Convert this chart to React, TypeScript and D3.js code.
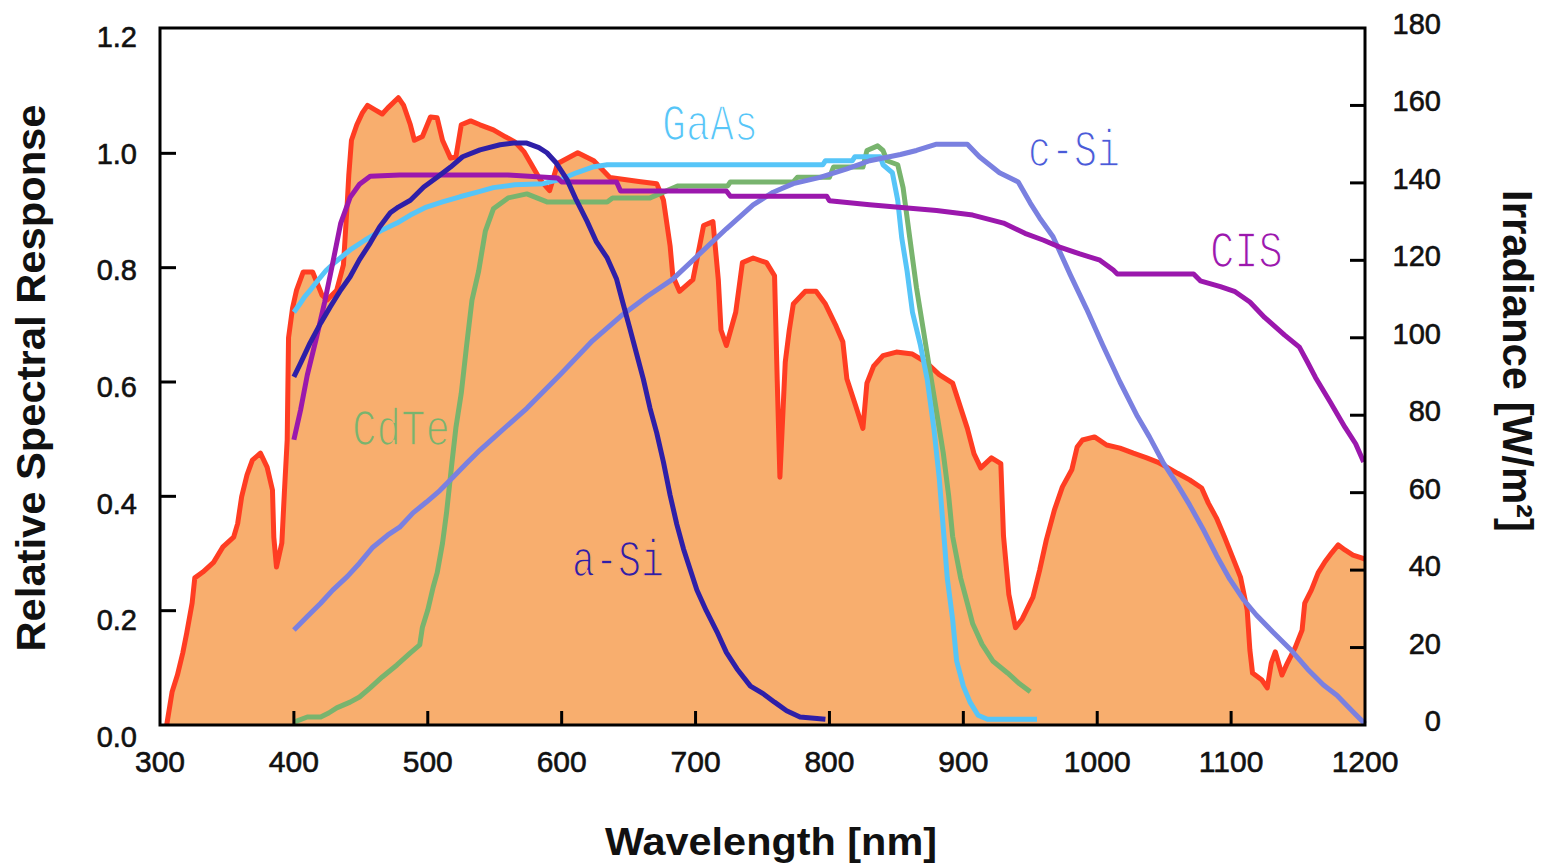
import React from 'react';
import * as d3 from 'd3';

// solar irradiance [nm, W/m2]  (right axis)
const irradiance: [number, number][] = [
  [305, 0], [309, 8.5], [313, 12.9], [317, 18.6], [320, 23.8], [324, 31.5], [326, 38], [332, 39.5],
  [340, 42], [347, 46], [355, 48.5], [358, 52], [361, 59], [365, 64.6], [369, 68.4], [375, 70.2],
  [380, 66.6], [384, 60.7], [385, 48.5], [387, 40.8], [391, 47], [393, 60.7], [395, 73.6], [396, 100],
  [399, 107.7], [402, 112.3], [407, 117], [414, 117], [418, 113.6], [421, 111], [425, 109.8], [432, 112.3],
  [437, 118.8], [440, 135.6], [441, 142], [443, 151], [447, 155], [451, 158], [455, 160], [461, 158.8],
  [466, 157.8], [470, 159.3], [478, 162], [482, 160], [487, 155], [490, 151], [496, 152], [502, 157],
  [507, 156.8], [511, 151], [517, 146.4], [521, 146.7], [525, 155], [532, 156], [539, 155], [549, 153.7],
  [558, 151.9], [565, 150.6], [572, 148], [577, 145], [584, 140.8], [591, 138], [597, 145], [612, 147.8],
  [624, 145.7], [636, 141.4], [659, 140.3], [671, 139.8], [676, 135.6], [681, 123.7], [683, 116], [688, 112],
  [698, 115], [703, 123.7], [706, 129], [713, 130], [717, 115], [719, 102], [723, 98], [730, 106.6],
  [735, 119.4], [743, 120.6], [753, 119.4], [759, 116], [761, 89], [763, 64], [767, 93.7], [770, 102],
  [773, 108.7], [782, 112], [790, 112], [797, 108.7], [805, 103], [810, 99], [813, 89.4], [820, 82],
  [825, 76.6], [828, 88.3], [833, 92.7], [840, 95.4], [850, 96.3], [862, 95.8], [872, 93.7], [882, 90.5],
  [892, 88.3], [898, 81.9], [903, 76.6], [908, 70], [913, 66.4], [921, 69], [928, 67.5], [930, 48.8],
  [934, 33.7], [939, 25.1], [944, 27.4], [952, 33], [957, 40], [962, 47.8], [968, 55.5], [974, 61.5],
  [981, 65.9], [985, 71.8], [989, 73.6], [998, 74.4], [1007, 72.3], [1017, 71.5], [1027, 70.2], [1037, 69],
  [1045, 67.9], [1052, 66.6], [1060, 65], [1069, 63.3], [1078, 61.2], [1083, 57.3], [1089, 53.5], [1095, 48.6],
  [1101, 43.4], [1107, 38.2], [1112, 29.7], [1114, 19.4], [1116, 13.4], [1123, 11.6], [1127, 9.6], [1130, 16],
  [1133, 18.9], [1138, 12.9], [1142, 16], [1148, 20.1], [1153, 24.5], [1155, 31.5], [1160, 34.9], [1165, 39.3],
  [1170, 42.1], [1175, 44.4], [1180, 46.5], [1185, 45.2], [1191, 43.9], [1198, 43.1], [1200, 42.8],
];

// relative spectral response [nm, value]  (left axis)
const gaAs: [number, number][] = [
  [400, 0.722], [404, 0.735], [408, 0.749], [413, 0.763], [418, 0.778], [424, 0.795], [431, 0.81], [442, 0.831],
  [453, 0.848], [466, 0.866], [477, 0.878], [487, 0.892], [499, 0.906], [511, 0.915], [524, 0.924], [537, 0.932],
  [549, 0.94], [565, 0.945], [586, 0.947], [600, 0.955], [611, 0.966], [623, 0.976], [634, 0.98], [795, 0.98],
  [797, 0.987], [817, 0.987], [819, 0.994], [838, 0.994], [840, 0.98], [847, 0.966], [851, 0.918], [854, 0.852],
  [858, 0.794], [862, 0.722], [868, 0.664], [873, 0.605], [878, 0.519], [882, 0.432], [885, 0.345], [888, 0.257],
  [892, 0.185], [895, 0.112], [900, 0.068], [905, 0.04], [911, 0.017], [918, 0.01], [955, 0.01],
];

const cdTe: [number, number][] = [
  [400, 0.005], [410, 0.014], [420, 0.014], [426, 0.021], [432, 0.03], [442, 0.04], [449, 0.049], [457, 0.065],
  [466, 0.084], [477, 0.105], [487, 0.126], [494, 0.14], [496, 0.171], [500, 0.201], [504, 0.241], [507, 0.266],
  [511, 0.318], [514, 0.371], [518, 0.458], [521, 0.52], [525, 0.58], [529, 0.664], [533, 0.743], [538, 0.794],
  [543, 0.864], [549, 0.903], [560, 0.922], [574, 0.929], [589, 0.915], [634, 0.915], [638, 0.922], [666, 0.922],
  [687, 0.943], [724, 0.943], [726, 0.95], [773, 0.95], [776, 0.958], [800, 0.958], [803, 0.976], [825, 0.976],
  [828, 1.005], [836, 1.013], [840, 1.005], [843, 0.987], [851, 0.98], [855, 0.94], [860, 0.852], [865, 0.765],
  [870, 0.693], [875, 0.62], [880, 0.548], [885, 0.476], [889, 0.402], [892, 0.33], [898, 0.257], [903, 0.213],
  [907, 0.177], [914, 0.141], [922, 0.112], [933, 0.091], [942, 0.072], [950, 0.058],
];

const aSi: [number, number][] = [
  [400, 0.609], [405, 0.633], [412, 0.668], [420, 0.703], [427, 0.731], [435, 0.761], [442, 0.784], [449, 0.814],
  [457, 0.843], [464, 0.871], [472, 0.896], [478, 0.906], [487, 0.918], [497, 0.941], [507, 0.958], [517, 0.976],
  [526, 0.994], [539, 1.006], [554, 1.015], [564, 1.018], [574, 1.018], [583, 1.01], [589, 1.001], [596, 0.983],
  [604, 0.954], [611, 0.918], [619, 0.881], [626, 0.845], [634, 0.817], [641, 0.78], [646, 0.736], [651, 0.693],
  [656, 0.649], [661, 0.605], [666, 0.554], [671, 0.511], [676, 0.46], [681, 0.402], [686, 0.351], [691, 0.308],
  [696, 0.272], [701, 0.236], [708, 0.2], [716, 0.163], [723, 0.127], [731, 0.098], [741, 0.068], [751, 0.054],
  [759, 0.04], [768, 0.025], [778, 0.014], [797, 0.01],
];

const cSi: [number, number][] = [
  [400, 0.166], [410, 0.19], [420, 0.213], [429, 0.236], [440, 0.26], [449, 0.283], [459, 0.311], [470, 0.332],
  [479, 0.346], [489, 0.371], [499, 0.39], [509, 0.41], [519, 0.434], [529, 0.458], [539, 0.481], [549, 0.502],
  [574, 0.554], [599, 0.613], [623, 0.672], [644, 0.715], [664, 0.75], [683, 0.78], [703, 0.824], [723, 0.868],
  [743, 0.91], [758, 0.932], [773, 0.947], [793, 0.958], [813, 0.973], [830, 0.987], [853, 0.998], [865, 1.005],
  [880, 1.016], [903, 1.016], [912, 0.994], [927, 0.966], [941, 0.95], [950, 0.913], [957, 0.887], [967, 0.854],
  [980, 0.787], [992, 0.728], [1004, 0.665], [1017, 0.6], [1030, 0.54], [1039, 0.504], [1049, 0.46], [1060, 0.42],
  [1069, 0.385], [1079, 0.343], [1089, 0.297], [1099, 0.255], [1109, 0.22], [1119, 0.192], [1131, 0.163],
  [1144, 0.133], [1157, 0.098], [1169, 0.07], [1179, 0.052], [1191, 0.023], [1200, 0.002],
];

const cis: [number, number][] = [
  [400, 0.499], [405, 0.551], [410, 0.612], [417, 0.679], [423, 0.74], [429, 0.808], [435, 0.878], [442, 0.923],
  [449, 0.946], [457, 0.96], [479, 0.962], [560, 0.962], [597, 0.957], [600, 0.95], [641, 0.95], [644, 0.934],
  [723, 0.934], [726, 0.925], [798, 0.925], [800, 0.917], [830, 0.91], [880, 0.9], [907, 0.892], [930, 0.878],
  [946, 0.86], [960, 0.848], [972, 0.836], [987, 0.824], [1002, 0.813], [1012, 0.796], [1015, 0.789], [1072, 0.789],
  [1077, 0.777], [1092, 0.767], [1103, 0.758], [1114, 0.74], [1125, 0.713], [1140, 0.682], [1151, 0.661],
  [1157, 0.635], [1163, 0.608], [1174, 0.565], [1185, 0.521], [1193, 0.492], [1199, 0.46],
];

const xTicks = [300, 400, 500, 600, 700, 800, 900, 1000, 1100, 1200];
const leftTicks = [0, 0.2, 0.4, 0.6, 0.8, 1.0, 1.2];
const rightTicks = [0, 20, 40, 60, 80, 100, 120, 140, 160, 180];

// order = drawing order (bottom to top); label anchored at [nm, response]
const series = [
  { name: 'CdTe', data: cdTe, color: '#78b46e', text: '#78b46e', label: [443.4, 0.49], width: 98, bg: '#f8ae6e' },
  { name: 'GaAs', data: gaAs, color: '#56c5f8', text: '#56c5f8', label: [674.9, 1.023], width: 96, bg: '#ffffff' },
  { name: 'c-Si', data: cSi, color: '#7a80e0', text: '#4a5ad8', label: [948.3, 0.978], width: 92, bg: '#ffffff' },
  { name: 'CIS', data: cis, color: '#9b18ad', text: '#9b18ad', label: [1084.2, 0.801], width: 73, bg: '#ffffff' },
  { name: 'a-Si', data: aSi, color: '#2e1fa8', text: '#2e1fa8', label: [607.7, 0.261], width: 92, bg: '#f8ae6e' },
];

const W = 1541;
const H = 865;
const left = 160, right = 1365, top = 28, bottom = 725;

const sans = '"Liberation Sans", Arial, sans-serif';

export default function App() {
  const x = d3.scaleLinear().domain([300, 1200]).range([left, right]);
  const yL = d3.scaleLinear().domain([0, 1.2]).range([bottom, 39]);
  const yLabel = d3.scaleLinear().domain([0, 1.2]).range([737, 37]);
  const yR = d3.scaleLinear().domain([0, 180]).range([bottom, top]);

  const respLine = d3.line<[number, number]>().x(d => x(d[0])).y(d => yL(d[1]));
  const irrLine = d3.line<[number, number]>().x(d => x(d[0])).y(d => yR(d[1]));
  const irrArea = d3.area<[number, number]>().x(d => x(d[0])).y0(yR(0)).y1(d => yR(d[1]));

  return (
    <div style={{ position: 'fixed', left: 0, top: 0, background: '#fff' }}>
      <svg width={W} height={H} style={{ display: 'block' }}>
        <rect x={0} y={0} width={W} height={H} fill="#ffffff" />

        {/* irradiance spectrum */}
        <path d={irrArea(irradiance) || ''} fill="#f8ae6e" />
        <path d={irrLine(irradiance) || ''} fill="none" stroke="#ff3d22" strokeWidth={5}
          strokeLinejoin="round" />

        {/* cell responses */}
        {series.map(s => (
          <path key={s.name} d={respLine(s.data as [number, number][]) || ''} fill="none"
            stroke={s.color} strokeWidth={5} strokeLinejoin="round" />
        ))}

        {series.map(s => (
          <text key={'l' + s.name} x={x(s.label[0])} y={yL(s.label[1])} fill={s.text}
            stroke={s.bg} strokeWidth={1.6}
            fontFamily='"Liberation Mono", "DejaVu Sans Mono", monospace' fontSize={52}
            textLength={s.width} lengthAdjust="spacingAndGlyphs">{s.name}</text>
        ))}

        {/* frame */}
        <rect x={left} y={top} width={right - left} height={bottom - top} fill="none" stroke="#000" strokeWidth={3} />

        {/* ticks */}
        {leftTicks.filter(t => t > 0 && t < 1.2).map(t => (
          <line key={'lt' + t} x1={left} x2={left + 16} y1={yL(t)} y2={yL(t)} stroke="#000" strokeWidth={3} />
        ))}
        {rightTicks.filter(t => t > 0 && t < 180).map(t => (
          <line key={'rt' + t} x1={right - 15} x2={right} y1={yR(t)} y2={yR(t)} stroke="#000" strokeWidth={3} />
        ))}
        {xTicks.filter(t => t > 300 && t < 1200).map(t => (
          <line key={'xt' + t} x1={x(t)} x2={x(t)} y1={bottom - 14} y2={bottom} stroke="#000" strokeWidth={3} />
        ))}

        {/* tick labels */}
        <g fontFamily={sans} fill="#111" stroke="#111" strokeWidth={0.6}>
          {leftTicks.map(t => (
            <text key={'ll' + t} x={137} y={yLabel(t)} dominantBaseline="central" textAnchor="end"
              fontSize={29}>{t.toFixed(1)}</text>
          ))}
          {rightTicks.map(t => (
            <text key={'rl' + t} x={1441} y={yR(t) - 4} dominantBaseline="central" textAnchor="end"
              fontSize={29}>{t}</text>
          ))}
          {xTicks.map(t => (
            <text key={'xl' + t} x={x(t)} y={772} textAnchor="middle" fontSize={30}>{t}</text>
          ))}
        </g>

        {/* axis titles */}
        <text transform="translate(45,378) rotate(-90)" textAnchor="middle" fontFamily={sans}
          fontWeight="bold" fontSize={41} fill="#111" textLength={547} lengthAdjust="spacingAndGlyphs">
          Relative Spectral Response
        </text>
        <text x={771} y={855} textAnchor="middle" fontFamily={sans} fontWeight="bold" fontSize={38}
          fill="#111" textLength={332} lengthAdjust="spacingAndGlyphs">Wavelength [nm]</text>
        <text transform="translate(1503,361) rotate(90)" textAnchor="middle" fontFamily={sans}
          fontWeight="bold" fontSize={42} fill="#111" textLength={342} lengthAdjust="spacingAndGlyphs">
          Irradiance [W/m²]
        </text>
      </svg>
    </div>
  );
}
